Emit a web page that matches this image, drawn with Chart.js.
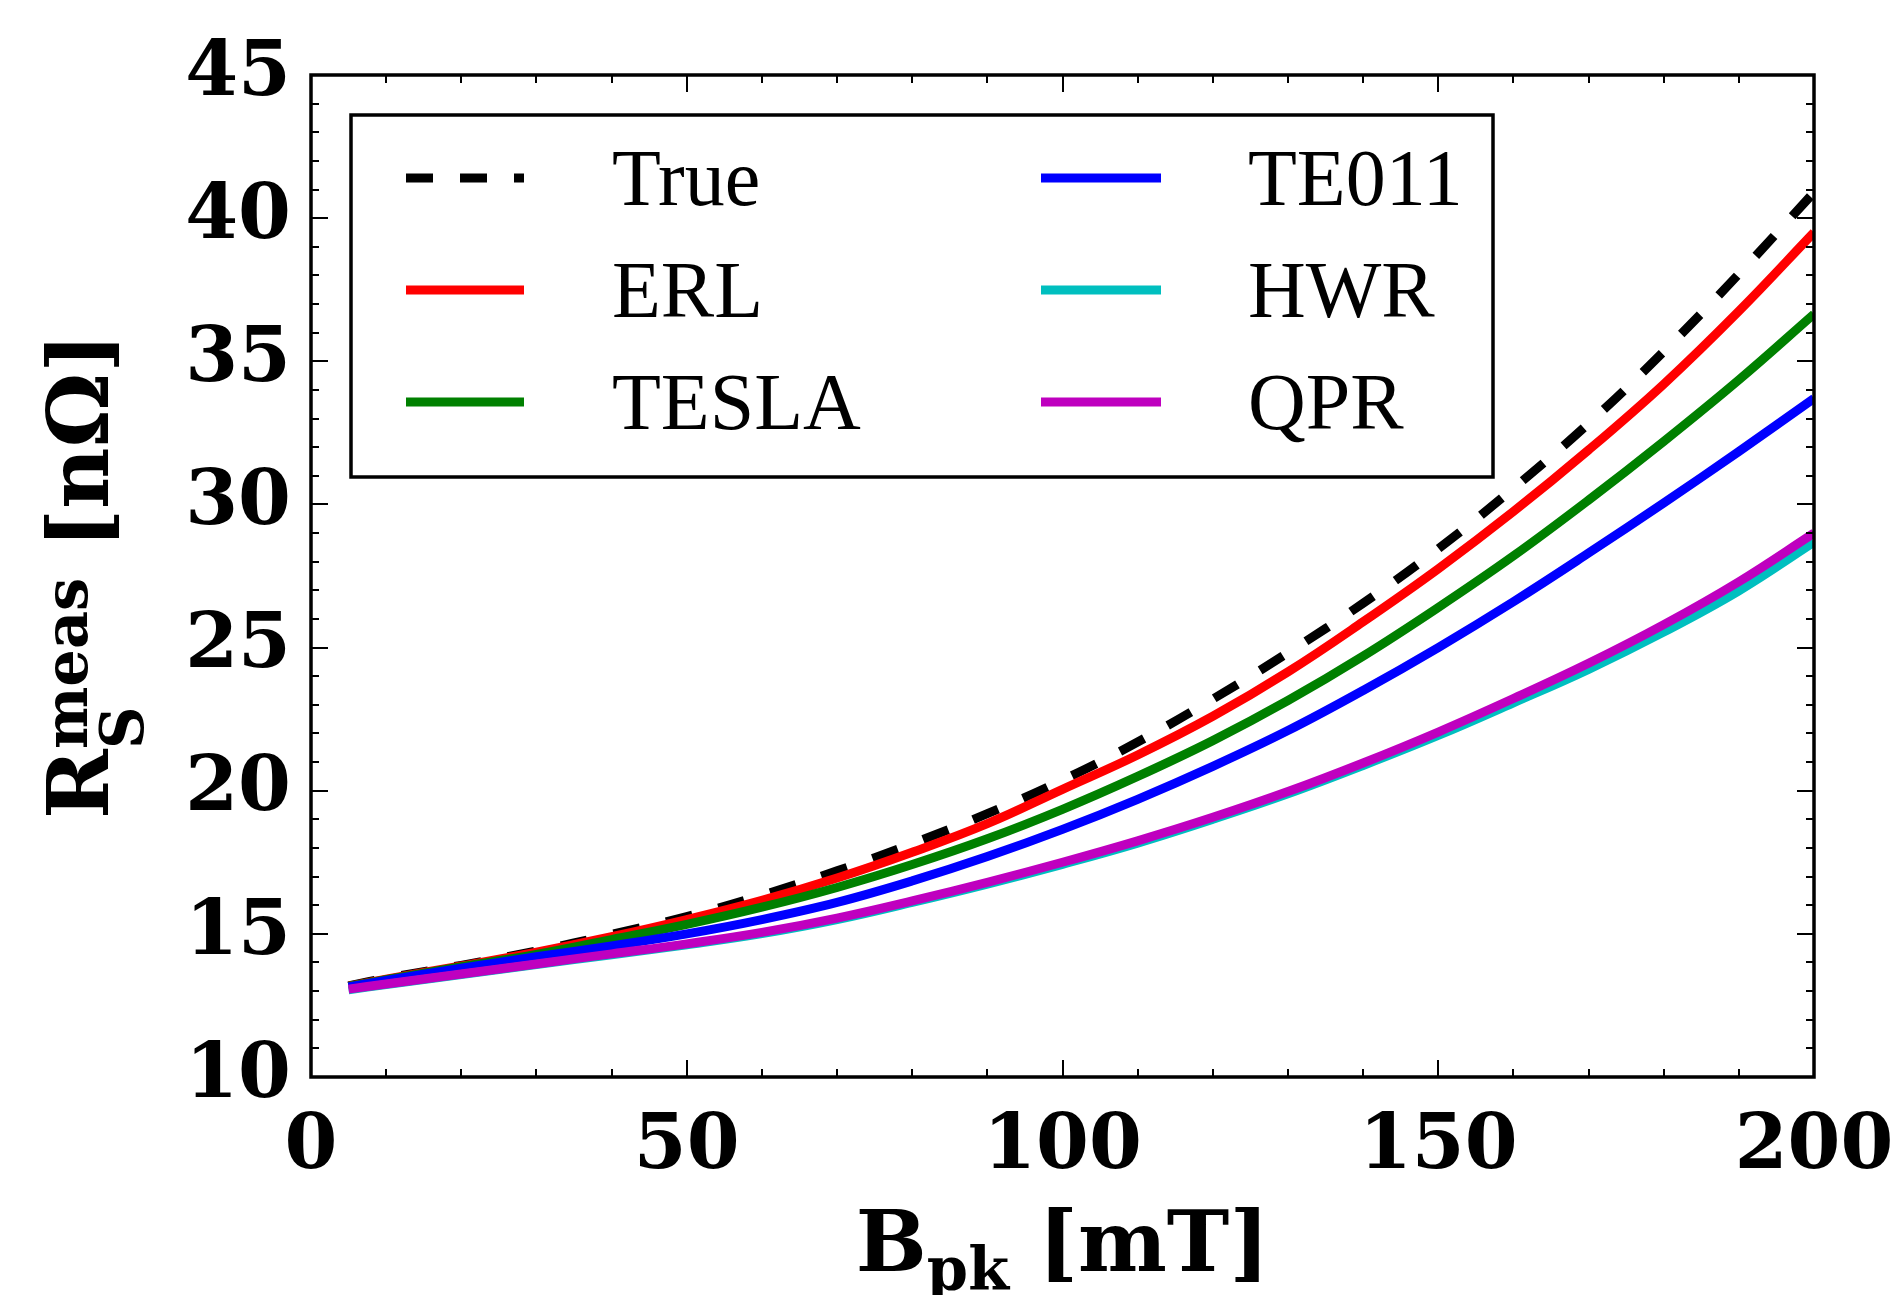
<!DOCTYPE html>
<html>
<head>
<meta charset="utf-8">
<script src="https://cdn.jsdelivr.net/npm/chart.js@4.4.1/dist/chart.umd.min.js"></script>
<style>
  html, body { margin: 0; padding: 0; background: #ffffff; }
  #wrap { width: 1903px; height: 1295px; }
</style>
</head>
<body>
<div id="wrap"><canvas id="c" width="1903" height="1295"></canvas></div>
<script>
// ---- data ----
const bField = [5, 10, 20, 30, 40, 50, 60, 70, 80, 90, 100, 110, 120, 130, 140, 150, 160, 170, 180, 190, 200];
const rsTrue  = [13.18, 13.45, 13.90, 14.40, 14.98, 15.60, 16.35, 17.20, 18.15, 19.20, 20.37, 21.70, 23.20, 24.82, 26.55, 28.45, 30.56, 32.83, 35.34, 38.05, 40.90];
const rsERL   = [13.17, 13.42, 13.88, 14.36, 14.90, 15.50, 16.17, 16.95, 17.85, 18.85, 20.05, 21.25, 22.60, 24.15, 25.90, 27.75, 29.75, 31.90, 34.20, 36.75, 39.50];
const rsTESLA = [13.16, 13.40, 13.85, 14.28, 14.80, 15.33, 15.93, 16.62, 17.42, 18.32, 19.35, 20.50, 21.75, 23.15, 24.70, 26.40, 28.20, 30.15, 32.20, 34.35, 36.65];
const rsTE011 = [13.15, 13.37, 13.80, 14.20, 14.58, 15.00, 15.50, 16.10, 16.85, 17.70, 18.65, 19.70, 20.85, 22.10, 23.50, 25.00, 26.60, 28.30, 30.05, 31.85, 33.70];
const rsHWR   = [13.05, 13.23, 13.58, 13.93, 14.27, 14.62, 15.01, 15.50, 16.10, 16.74, 17.43, 18.17, 19.00, 19.89, 20.88, 21.93, 23.07, 24.24, 25.54, 26.98, 28.68];
const rsQPR   = [13.07, 13.25, 13.60, 13.95, 14.30, 14.65, 15.05, 15.55, 16.15, 16.80, 17.50, 18.25, 19.07, 19.97, 20.97, 22.05, 23.22, 24.45, 25.80, 27.30, 29.00];

const seriesNames  = ['True', 'ERL', 'TESLA', 'TE011', 'HWR', 'QPR'];
const seriesValues = [rsTrue, rsERL, rsTESLA, rsTE011, rsHWR, rsQPR];
const seriesColors = ['#000000', '#ff0000', '#008000', '#0000ff', '#00bfbf', '#bf00bf'];
const seriesDashed = [true, false, false, false, false, false];

const xMin = 0, xMax = 200, xMajor = 50, xMinor = 10;
const yMin = 10, yMax = 45, yMajor = 5, yMinor = 1;

// ---- layout / style constants ----
const AREA = { left: 311, top: 75, right: 1814, bottom: 1077 };
const LINE_W = 9;
const DASH = [27, 27];
const TICK_FONT = { family: 'DejaVu Serif', weight: 'bold', size: 76 };

const datasets = seriesNames.map((name, i) => ({
  label: name,
  data: bField.map((b, j) => ({ x: b, y: seriesValues[i][j] })),
  borderColor: seriesColors[i],
  backgroundColor: seriesColors[i],
  borderWidth: LINE_W,
  borderDash: seriesDashed[i] ? DASH : [],
  borderCapStyle: 'butt',
  pointRadius: 0,
  pointHoverRadius: 0,
  fill: false,
  tension: 0.4,
  clip: 0,
  order: seriesNames.length - i
}));

function drawTicks(chart) {
  const ctx = chart.ctx;
  const xs = chart.scales.x, ys = chart.scales.y;
  const a = chart.chartArea;
  ctx.save();
  ctx.strokeStyle = '#000';
  ctx.lineWidth = 2;
  ctx.beginPath();
  for (let v = xMin; v <= xMax + 1e-9; v += xMinor) {
    const px = Math.round(xs.getPixelForValue(v));
    const len = (Math.abs(v % xMajor) < 1e-9) ? 17 : 8;
    ctx.moveTo(px, a.bottom); ctx.lineTo(px, a.bottom - len);
    ctx.moveTo(px, a.top);    ctx.lineTo(px, a.top + len);
  }
  for (let v = yMin; v <= yMax + 1e-9; v += yMinor) {
    const py = Math.round(ys.getPixelForValue(v));
    const len = (Math.abs((v - yMin) % yMajor) < 1e-9) ? 17 : 8;
    ctx.moveTo(a.left, py);  ctx.lineTo(a.left + len, py);
    ctx.moveTo(a.right, py); ctx.lineTo(a.right - len, py);
  }
  ctx.stroke();
  ctx.lineWidth = 3.5;
  ctx.strokeRect(a.left, a.top, a.right - a.left, a.bottom - a.top);
  ctx.restore();
}

function drawLegend(chart) {
  const ctx = chart.ctx;
  ctx.save();
  ctx.fillStyle = '#fff';
  ctx.fillRect(351, 115, 1493 - 351, 477 - 115);
  ctx.strokeStyle = '#000';
  ctx.lineWidth = 3.5;
  ctx.strokeRect(351, 115, 1493 - 351, 477 - 115);
  const rows = [178, 290, 402];
  const cols = [{ h0: 406, h1: 524, tx: 612 }, { h0: 1041, h1: 1161, tx: 1248 }];
  ctx.font = '80px "Liberation Serif"';
  ctx.textBaseline = 'alphabetic';
  ctx.textAlign = 'left';
  chart.data.datasets.forEach((ds, i) => {
    const col = cols[Math.floor(i / 3)];
    const y = rows[i % 3];
    ctx.beginPath();
    ctx.strokeStyle = ds.borderColor;
    ctx.lineWidth = LINE_W;
    ctx.lineCap = 'butt';
    ctx.setLineDash(ds.borderDash || []);
    ctx.moveTo(col.h0, y); ctx.lineTo(col.h1, y);
    ctx.stroke();
    ctx.setLineDash([]);
    ctx.fillStyle = '#000';
    ctx.fillText(ds.label, col.tx, y + 27);
  });
  ctx.restore();
}

function drawTitles(chart) {
  const ctx = chart.ctx;
  const a = chart.chartArea;
  const MAIN = 'bold 84px "DejaVu Serif"';
  const SCRIPT = 'bold 59px "DejaVu Serif"';
  ctx.save();
  ctx.fillStyle = '#000';
  ctx.textBaseline = 'alphabetic';
  ctx.textAlign = 'left';

  // x title: B_pk [mT]
  ctx.font = MAIN;
  const wB = ctx.measureText('B').width;
  const wSp = ctx.measureText(' ').width;
  const wU = ctx.measureText('[mT]').width;
  ctx.font = SCRIPT;
  const wPk = ctx.measureText('pk').width;
  const totX = wB + wPk + wSp + wU;
  const x0 = (a.left + a.right) / 2 - totX / 2;
  const base = 1271;
  ctx.font = MAIN; ctx.fillText('B', x0, base);
  ctx.font = SCRIPT; ctx.fillText('pk', x0 + wB, base + 19);
  ctx.font = MAIN; ctx.fillText('[mT]', x0 + wB + wPk + wSp, base);

  // y title: R_S^meas [nΩ]
  ctx.save();
  ctx.translate(108, (a.top + a.bottom) / 2);
  ctx.rotate(-Math.PI / 2);
  ctx.font = MAIN;
  const wR = ctx.measureText('R').width;
  const wU2 = ctx.measureText('[nΩ]').width;
  ctx.font = SCRIPT;
  const wMeas = ctx.measureText('meas').width;
  const wS = ctx.measureText('S').width;
  const wScr = Math.max(wMeas, wS);
  const totY = wR + wScr + wSp + wU2;
  const s0 = -totY / 2;
  ctx.font = MAIN; ctx.fillText('R', s0, 0);
  ctx.font = SCRIPT;
  ctx.fillText('meas', s0 + wR, -21);
  ctx.fillText('S', s0 + wR, 35);
  ctx.font = MAIN; ctx.fillText('[nΩ]', s0 + wR + wScr + wSp, 0);
  ctx.restore();

  ctx.restore();
}

const decorations = {
  id: 'decorations',
  afterDraw(chart) {
    drawTicks(chart);
    drawLegend(chart);
    drawTitles(chart);
  }
};

new Chart(document.getElementById('c'), {
  type: 'line',
  data: { datasets },
  options: {
    responsive: false,
    animation: false,
    devicePixelRatio: 1,
    layout: { padding: { top: AREA.top, right: 1903 - AREA.right, left: 0, bottom: 0 } },
    plugins: { legend: { display: false }, tooltip: { enabled: false } },
    scales: {
      x: {
        type: 'linear',
        min: xMin, max: xMax,
        grid: { display: false, drawTicks: false },
        border: { display: false },
        ticks: { stepSize: xMajor, color: '#000', font: TICK_FONT, padding: 26, maxRotation: 0, autoSkip: false },
        afterFit(scale) {
          scale.height = 1295 - AREA.bottom;
          scale.paddingLeft = 0; scale.paddingRight = 0;
        }
      },
      y: {
        type: 'linear',
        min: yMin, max: yMax,
        grid: { display: false, drawTicks: false },
        border: { display: false },
        ticks: { stepSize: yMajor, color: '#000', font: TICK_FONT, padding: 20, autoSkip: false },
        afterFit(scale) {
          scale.width = AREA.left;
          scale.paddingTop = 0; scale.paddingBottom = 0;
        }
      }
    }
  },
  plugins: [decorations]
});
</script>
</body>
</html>
